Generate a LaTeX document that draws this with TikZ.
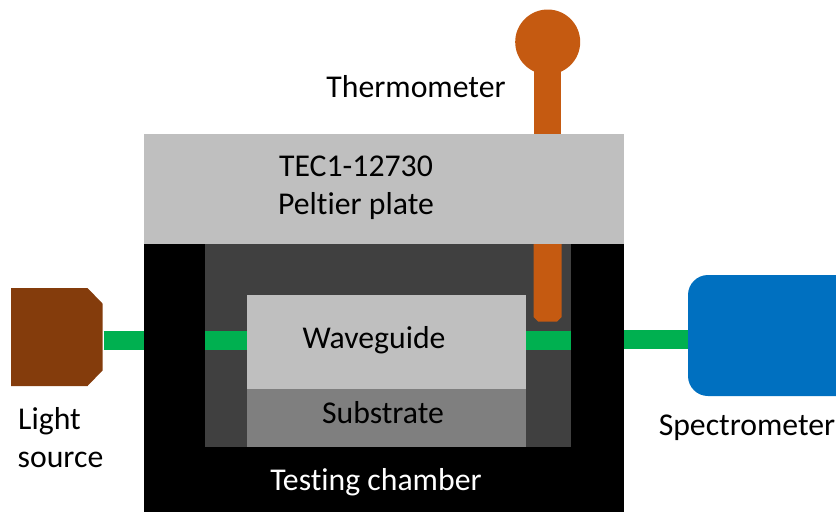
\documentclass[tikz,border=0pt]{standalone}
\usepackage{fontspec}
\setmainfont{Carlito}[Ligatures=NoCommon]
\usetikzlibrary{positioning}
\definecolor{plategray}{HTML}{BFBFBF}
\definecolor{cavitygray}{HTML}{404040}
\definecolor{subgray}{HTML}{7F7F7F}
\definecolor{fibergreen}{HTML}{00B050}
\definecolor{probeorange}{HTML}{C55A11}
\definecolor{sourcebrown}{HTML}{843C0C}
\definecolor{specblue}{HTML}{0070C0}

\begin{document}
\begin{tikzpicture}[
		x=0.75pt, y=-0.75pt,
		font=\fontsize{23.8}{29}\selectfont,
		% Style for the solid blocks of the setup
		block/.style={
			draw=none, inner sep=0pt, outer sep=0pt, anchor=north west,
			align=center
		},
		% Style for the green light path
		fiber/.style={draw=fibergreen, line width=14.3pt},
		labelnode/.style={inner sep=0pt, align=left}
		]
		\useasboundingbox (0,0) rectangle (836,512);
		\clip (0,0) rectangle (836,512);
		
		% --- CHAMBER AND PLATE ---
		\node[block, fill=black, minimum width=360pt, minimum height=201pt] (chamber) at (144,244) {};
		\node[block, fill=plategray, minimum width=360pt, minimum height=82.5pt, anchor=south west] (peltier) at (chamber.north west) {};
		\node[block, fill=cavitygray, minimum width=274.5pt, minimum height=152.25pt] (cavity) at (205,244) {};
		
		% --- SAMPLE ---
		\node[block, fill=subgray, minimum width=209.25pt, minimum height=43.5pt, anchor=south west] (substrate) at (247,447) {};
		\node[block, fill=plategray, minimum width=209.25pt, minimum height=70.5pt, anchor=south west] (waveguide) at (substrate.north west) {};
		
		% --- SOURCE AND SPECTROMETER ---
		\fill[sourcebrown] (11,288) -- (87.5,288) -- (102.5,303.5) -- (102.5,370.5) -- (87.5,386) -- (11,386) -- cycle;
		\coordinate (source) at (103.5,337);
		\node[block, fill=specblue, rounded corners=15pt, minimum width=150pt, minimum height=90.75pt] (spectrometer) at (688,275) {};
		
		% --- THERMOMETER ---
		\node[circle, fill=probeorange, inner sep=0pt, minimum size=48.75pt] (bulb) at (547.7,42) {};
		\draw[draw=probeorange, line width=20.5pt] (bulb.center) -- (bulb |- peltier.north);
		\fill[probeorange] (533.7,244) -- (561.7,244) -- (561.7,317) -- (557,321.7) -- (538.4,321.7) -- (533.7,317) -- cycle;
		
		% --- LIGHT PATH ---
		\coordinate (inlet) at (144,340.5);
		\coordinate (outlet) at (624,339.3);
		\draw[fiber] (source |- inlet) -- (inlet);
		\draw[fiber] (cavity.west |- inlet) -- (waveguide.west |- inlet);
		\draw[fiber] (waveguide.east |- inlet) -- (cavity.east |- inlet);
		\draw[fiber] (outlet) -- (spectrometer.west |- outlet);
		
		% --- LABELS ---
		\node[labelnode] (tecline) at (356,166) {TEC1-12730};
		\node[labelnode] (peltierlabel) at (356,206.5) {Peltier plate};
		\node[labelnode] (waveguidelabel) at (374,340.5) {Waveguide};
		\node[labelnode] (substratelabel) at (383,413) {Substrate};
		\node[labelnode, text=white] (chamberlabel) at (376,482) {Testing chamber};
		\node[labelnode] (thermometerlabel) at (416,87) {Thermometer};
		\node[labelnode] (lightlabel) at (49.5,421) {Light};
		\node[labelnode] (sourcelabel) at (60.5,460) {source};
		\node[labelnode] (spectrometerlabel) at (747,428) {Spectrometer};
		
	\end{tikzpicture}
\end{document}
